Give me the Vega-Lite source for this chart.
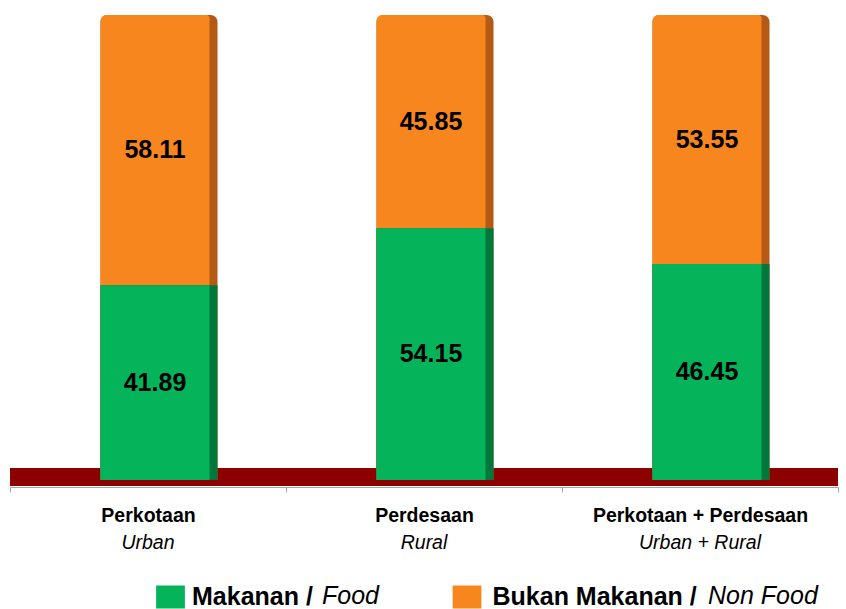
{
  "$schema": "https://vega.github.io/schema/vega-lite/v6.json",
  "width": 828,
  "height": 472,
  "autosize": {"type": "none"},
  "padding": {"left": 10, "top": 15, "right": 8, "bottom": 122},
  "background": "white",
  "config": {"view": {"stroke": null}, "font": "Liberation Sans"},
  "data": {
    "values": [
      {"region": "Perkotaan", "series": "Food", "value": 41.89},
      {"region": "Perkotaan", "series": "Non Food", "value": 58.11},
      {"region": "Perdesaan", "series": "Food", "value": 54.15},
      {"region": "Perdesaan", "series": "Non Food", "value": 45.85},
      {"region": "Perkotaan + Perdesaan", "series": "Food", "value": 46.45},
      {"region": "Perkotaan + Perdesaan", "series": "Non Food", "value": 53.55}
    ]
  },
  "layer": [
    {
      "data": {"values": [{}]},
      "mark": {"type": "rect", "color": "#8C0000"},
      "encoding": {
        "y": {"datum": 2.6, "type": "quantitative", "scale": {"domain": [-1.5, 100], "nice": false, "zero": false}, "axis": null},
        "y2": {"datum": -1.3}
      }
    },
    {
      "transform": [{"filter": "datum.series === 'Non Food'"}],
      "mark": {"type": "bar", "color": "#B45A14", "cornerRadiusTopLeft": 7, "cornerRadiusTopRight": 7, "xOffset": 11, "width": {"band": 0.424}},
      "encoding": {
        "x": {"field": "region", "type": "nominal", "scale": {"domain": ["Perkotaan", "Perdesaan", "Perkotaan + Perdesaan"], "paddingInner": 0, "paddingOuter": 0}, "axis": null},
        "y": {"datum": 100, "type": "quantitative", "scale": {"domain": [-1.5, 100], "nice": false, "zero": false}, "axis": null},
        "y2": {"datum": 0}
      }
    },
    {
      "transform": [{"filter": "datum.series === 'Non Food'"}],
      "mark": {"type": "bar", "cornerRadiusTopLeft": 6, "cornerRadiusTopRight": 3, "xOffset": 7, "width": {"band": 0.395}},
      "encoding": {
        "x": {"field": "region", "type": "nominal", "scale": {"domain": ["Perkotaan", "Perdesaan", "Perkotaan + Perdesaan"], "paddingInner": 0, "paddingOuter": 0}, "axis": null},
        "y": {"datum": 100, "type": "quantitative", "scale": {"domain": [-1.5, 100], "nice": false, "zero": false}, "axis": null},
        "y2": {"datum": 0},
        "color": {
          "field": "series", "type": "nominal",
          "scale": {"domain": ["Non Food"], "range": ["#F8861F"]},
          "legend": {
            "orient": "none", "legendX": 444.5, "legendY": 569.5, "direction": "horizontal", "title": null,
            "symbolType": "M-1.25,-1H1.25V1H-1.25Z", "symbolSize": 529, "symbolStrokeWidth": 0, "symbolOpacity": 1,
            "labelFontSize": 25, "labelFontWeight": "bold", "labelColor": "black", "labelOffset": 13,
            "labelExpr": "'Bukan Makanan /'", "labelLimit": 400, "padding": 0
          }
        }
      }
    },
    {
      "transform": [{"filter": "datum.series === 'Food'"}],
      "mark": {"type": "bar", "color": "#00783C", "xOffset": 11, "width": {"band": 0.424}},
      "encoding": {
        "x": {"field": "region", "type": "nominal", "scale": {"domain": ["Perkotaan", "Perdesaan", "Perkotaan + Perdesaan"], "paddingInner": 0, "paddingOuter": 0}, "axis": null},
        "y": {"field": "value", "type": "quantitative", "scale": {"domain": [-1.5, 100], "nice": false, "zero": false}, "axis": null}
      }
    },
    {
      "transform": [{"filter": "datum.series === 'Food'"}],
      "mark": {"type": "bar", "xOffset": 7, "width": {"band": 0.395}},
      "encoding": {
        "x": {
          "field": "region", "type": "nominal",
          "scale": {"domain": ["Perkotaan", "Perdesaan", "Perkotaan + Perdesaan"], "paddingInner": 0, "paddingOuter": 0},
          "axis": {
            "orient": "bottom", "title": null, "domainColor": "#A6A6A6", "tickColor": "#A6A6A6", "tickSize": 5, "tickBand": "extent",
            "labelFontWeight": "bold", "labelFontSize": 19.5, "labelColor": "black", "labelPadding": 14.6,
            "labelAngle": 0, "grid": false, "labelLimit": 400, "labelOverlap": false
          }
        },
        "y": {"field": "value", "type": "quantitative", "scale": {"domain": [-1.5, 100], "nice": false, "zero": false}, "axis": null},
        "color": {
          "field": "series", "type": "nominal",
          "scale": {"domain": ["Food"], "range": ["#05B45A"]},
          "legend": {
            "orient": "none", "legendX": 148, "legendY": 569.5, "direction": "horizontal", "title": null,
            "symbolType": "M-1.25,-1H1.25V1H-1.25Z", "symbolSize": 529, "symbolStrokeWidth": 0, "symbolOpacity": 1,
            "labelFontSize": 25, "labelFontWeight": "bold", "labelColor": "black", "labelOffset": 9,
            "labelExpr": "'Makanan /'", "labelLimit": 400, "padding": 0
          }
        }
      }
    },
    {
      "mark": {"type": "text", "fontSize": 25, "fontWeight": "bold", "xOffset": 7, "baseline": "middle"},
      "encoding": {
        "x": {
          "field": "region", "type": "nominal",
          "scale": {"domain": ["Perkotaan", "Perdesaan", "Perkotaan + Perdesaan"], "paddingInner": 0, "paddingOuter": 0},
          "axis": {
            "orient": "bottom", "title": null, "domain": false, "ticks": true, "tickSize": 5, "tickColor": "transparent",
            "labelFontStyle": "italic", "labelFontSize": 19.5, "labelColor": "black", "labelPadding": 41,
            "labelAngle": 0, "grid": false, "labelLimit": 400, "labelOverlap": false,
            "labelExpr": "datum.value === 'Perkotaan' ? 'Urban' : datum.value === 'Perdesaan' ? 'Rural' : datum.value === 'Perkotaan + Perdesaan' ? 'Urban + Rural' : ''"
          }
        },
        "y": {"field": "value", "type": "quantitative", "stack": "zero", "bandPosition": 0.5, "scale": {"domain": [-1.5, 100], "nice": false, "zero": false}, "axis": null},
        "order": {"field": "series", "sort": "ascending"},
        "text": {"field": "value", "type": "quantitative", "format": ".2f"},
        "color": {
          "field": "series", "type": "nominal",
          "scale": {"domain": ["Food", "Non Food"], "range": ["black", "black"]},
          "legend": {
            "orient": "none", "legendX": 287, "legendY": 568.5, "direction": "horizontal", "title": null,
            "symbolSize": 4, "symbolOpacity": 0, "labelOffset": 0,
            "labelFontSize": 25, "labelFontStyle": "italic", "labelColor": "black",
            "columnPadding": 304, "labelLimit": 400, "padding": 0
          }
        }
      }
    }
  ],
  "resolve": {
    "scale": {"color": "independent"},
    "legend": {"color": "independent"},
    "axis": {"x": "independent"}
  }
}
